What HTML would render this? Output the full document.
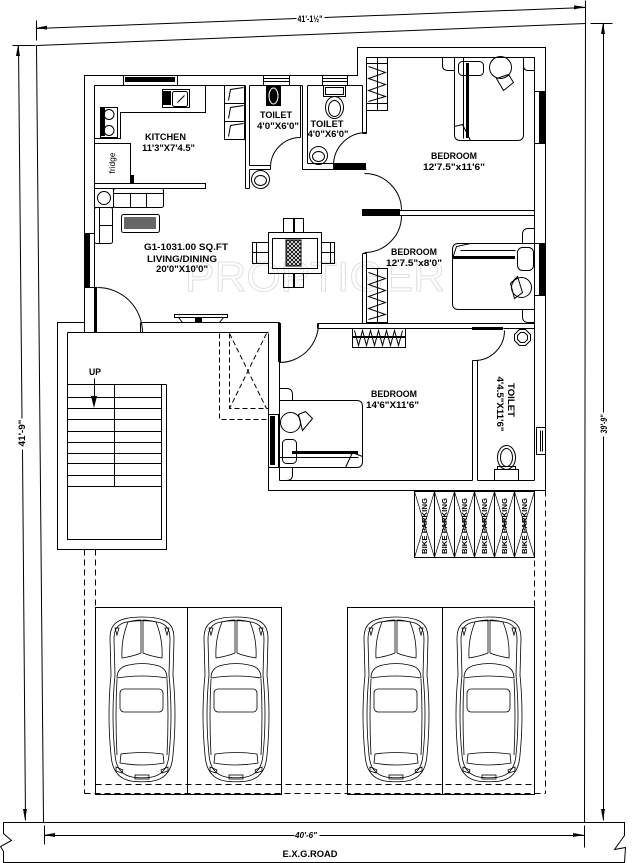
<!DOCTYPE html>
<html><head><meta charset="utf-8"><style>
html,body{margin:0;padding:0;background:#fff;}
svg{display:block}
text{font-family:"Liberation Sans",sans-serif;font-weight:bold;fill:#000;stroke:none}
</style></head><body>
<svg width="632" height="863" viewBox="0 0 632 863" xmlns="http://www.w3.org/2000/svg">
<defs>
<g id="car" fill="none" stroke="#000" stroke-width="0.8">
 <path d="M14,5 C24,1 46,1 56,5 C64,8 67,14 67,24 L66,60 C69,90 68,120 66,140 C65,156 58,164 46,166 C40,167 30,167 24,166 C12,164 5,156 4,140 C2,120 1,90 4,60 L3,24 C3,14 6,8 14,5 Z"/>
 <path d="M16,8 C26,5 44,5 54,8 C61,11 63,16 63,25 L62,60 C65,90 64,120 62,140 C61,153 55,160 45,162 C40,163 30,163 25,162 C15,160 9,153 8,140 C6,120 5,90 8,60 L7,25 C7,16 9,11 16,8 Z"/>
 <path d="M21,7 Q28,5 34,5 L34,38 Q27,41 15,43 Q14,24 21,7 Z"/>
 <path d="M49,7 Q42,5 36,5 L36,38 Q43,41 55,43 Q56,24 49,7 Z"/>
 <path d="M8,13 L12,13 L10,20 Z"/>
 <path d="M58,13 L62,13 L60,20 Z"/>
 <path d="M10,63 Q10,52 22,50 Q35,47 48,50 Q60,52 60,63 Q35,59 10,63 Z"/>
 <rect x="13" y="74" width="43" height="23" rx="4"/>
 <path d="M13,148 L14,139 Q35,136 56,139 L57,148 Q35,152 13,148 Z"/>
 <path d="M9,152 L16,155 L15,158 L9,156 Z"/>
 <path d="M61,152 L54,155 L55,158 L61,156 Z"/>
 <rect x="28" y="160" width="14" height="4"/>
 <path d="M10,64 Q8,100 10,140"/>
 <path d="M60,64 Q62,100 60,140"/>
</g>
<pattern id="hatch" width="4" height="4" patternUnits="userSpaceOnUse">
 <rect width="4" height="4" fill="#fff"/>
 <path d="M0,4 L4,0 M0,0 L4,4" stroke="#000" stroke-width="0.9"/>
</pattern>
</defs>

<!-- watermark -->
<text x="315" y="291" font-size="42" text-anchor="middle" textLength="260" lengthAdjust="spacingAndGlyphs" style="font-weight:normal;fill:none;stroke:#d9d9d9;stroke-width:0.8">PROPTIGER</text>

<g stroke="#000" stroke-width="1" fill="none" transform="translate(0.5,0.5)">
<!-- plot boundary -->
<line x1="36" y1="45" x2="585" y2="23"/>
<line x1="36" y1="45" x2="43" y2="822"/>
<line x1="585" y1="0" x2="584" y2="822"/>
<!-- top dim -->
<line x1="36" y1="28" x2="296" y2="18"/>
<line x1="324" y1="17" x2="585" y2="7"/>
<line x1="36" y1="20" x2="36" y2="40"/>
<!-- left dim -->
<line x1="18" y1="45" x2="21.5" y2="418"/>
<line x1="22" y1="449" x2="25" y2="820"/>
<line x1="12" y1="45" x2="35" y2="45"/>
<!-- right dim -->
<line x1="603" y1="23" x2="603" y2="412"/>
<line x1="603" y1="436" x2="603" y2="820"/>
<line x1="590" y1="23" x2="612" y2="23"/>
<!-- bottom dim -->
<line x1="44" y1="835" x2="294" y2="835"/>
<line x1="319" y1="835" x2="584" y2="835"/>
<line x1="44" y1="825" x2="44" y2="844"/>
<line x1="584" y1="825" x2="584" y2="847"/>
<!-- road -->
<path d="M3,822 L624,822 L624,835 L614,849 L625,847 L624,862 L3,862 L3,851 L0,846 L11,840 L3,833 Z"/>

<!-- house outer -->
<polyline points="84,332 84,75 357,75 357,47 545,47 545,490 268,490 268,333"/>
<line x1="94" y1="85" x2="245" y2="85"/>
<line x1="249" y1="85" x2="302" y2="85"/>
<line x1="307" y1="85" x2="362" y2="85"/>
<line x1="366" y1="57" x2="534" y2="57"/>
<line x1="534" y1="57" x2="534" y2="480"/>
<line x1="94" y1="85" x2="94" y2="287"/>

<!-- stair block -->
<polyline points="84,322 57,322 57,549 166,549 166,384"/>
<polyline points="67,332 67,539 161,539 161,384"/>
<line x1="67" y1="332" x2="268" y2="332"/>
<line x1="140" y1="322" x2="279" y2="322"/>
<line x1="140" y1="322" x2="140" y2="332"/>
<line x1="67" y1="384" x2="166" y2="384"/>
<line x1="67" y1="397" x2="161" y2="397"/>
<line x1="67" y1="408" x2="161" y2="408"/>
<line x1="67" y1="419" x2="161" y2="419"/>
<line x1="67" y1="431" x2="161" y2="431"/>
<line x1="67" y1="442" x2="161" y2="442"/>
<line x1="67" y1="453" x2="161" y2="453"/>
<line x1="67" y1="463" x2="161" y2="463"/>
<line x1="67" y1="475" x2="161" y2="475"/>
<line x1="67" y1="486" x2="161" y2="486"/>
<line x1="114" y1="384" x2="114" y2="486"/>
<line x1="94" y1="378" x2="94" y2="398"/>

<!-- duct -->
<g stroke-dasharray="5,3">
<polyline points="219,333 219,419 268,419"/>
<polyline points="229,333 229,408 268,408"/>
<line x1="229" y1="333" x2="266" y2="408"/>
<line x1="266" y1="333" x2="229" y2="408"/>
</g>

<!-- bedroom3 walls -->
<line x1="279" y1="322" x2="279" y2="480"/>
<line x1="279" y1="480" x2="472" y2="480"/>
<line x1="477" y1="480" x2="534" y2="480"/>
<line x1="317" y1="323" x2="534" y2="323"/>
<line x1="317" y1="328" x2="472" y2="328"/>
<line x1="503" y1="328" x2="534" y2="328"/>
<line x1="317" y1="323" x2="317" y2="328"/>
<line x1="472" y1="360" x2="472" y2="480"/>
<line x1="477" y1="360" x2="477" y2="480"/>
<line x1="472" y1="360" x2="477" y2="360"/>

<!-- bedroom2 left wall -->
<line x1="362" y1="253" x2="362" y2="323"/>
<line x1="366" y1="253" x2="366" y2="323"/>
<line x1="362" y1="253" x2="366" y2="253"/>
<!-- bedroom1/2 divider -->
<line x1="362" y1="210" x2="534" y2="210"/>
<line x1="362" y1="215" x2="534" y2="215"/>
<!-- bedroom1 left -->
<line x1="362" y1="85" x2="362" y2="133"/>
<line x1="366" y1="57" x2="366" y2="133"/>
<line x1="362" y1="133" x2="366" y2="133"/>
<!-- toilet2 walls -->
<line x1="302" y1="85" x2="302" y2="169"/>
<line x1="307" y1="85" x2="307" y2="163"/>
<line x1="307" y1="163" x2="333" y2="163"/>
<line x1="302" y1="169" x2="366" y2="169"/>
<!-- toilet1 walls -->
<line x1="245" y1="85" x2="245" y2="188"/>
<line x1="249" y1="85" x2="249" y2="165"/>
<line x1="249" y1="169" x2="249" y2="188"/>
<line x1="245" y1="188" x2="249" y2="188"/>
<line x1="249" y1="165" x2="270" y2="165"/>
<line x1="249" y1="169" x2="270" y2="169"/>
<line x1="270" y1="165" x2="270" y2="169"/>
<line x1="300" y1="85" x2="300" y2="137"/>

<!-- doors -->
<path d="M97,287 A45,45 0 0 1 142,332"/>
<path d="M279,362 A39,39 0 0 0 318,323"/>
<path d="M364,173 A37,37 0 0 1 401,210"/>
<path d="M401,215 A37,37 0 0 1 364,252"/>
<path d="M333,165 A33,33 0 0 1 366,132"/>
<path d="M504,330 A30,30 0 0 1 474,360"/>
<path d="M270,167 A30,30 0 0 1 300,137"/>

<!-- kitchen -->
<polyline points="94,138 120,138 120,112 205,112 205,85"/>
<rect x="100" y="107" width="17" height="30"/>
<circle cx="108.5" cy="114" r="5"/>
<circle cx="108.5" cy="130" r="5"/>
<rect x="162" y="89" width="27" height="18"/>
<rect x="172" y="91" width="15" height="15" rx="2"/>
<line x1="177" y1="102" x2="184" y2="95"/>
<polyline points="94,143 130,143 130,183"/>
<rect x="94" y="183" width="111" height="5"/>
<rect x="224" y="85" width="20" height="54"/>
<line x1="224" y1="103" x2="244" y2="103"/>
<line x1="224" y1="121" x2="244" y2="121"/>
<polyline points="228,100 230,89 243,87"/>
<polyline points="228,118 230,107 243,105"/>
<polyline points="228,136 230,125 243,123"/>
<!-- windows top -->
<rect x="123" y="75" width="54" height="10"/>
<rect x="263" y="75" width="26" height="10"/>
<line x1="263" y1="78" x2="289" y2="78"/>
<line x1="263" y1="81" x2="289" y2="81"/>
<rect x="322" y="75" width="25" height="10"/>
<line x1="322" y1="78" x2="347" y2="78"/>
<line x1="322" y1="81" x2="347" y2="81"/>
<!-- left window -->
<rect x="84" y="233" width="10" height="54"/>

<!-- toilets fixtures -->
<circle cx="260" cy="179" r="9"/>
<ellipse cx="260" cy="180" rx="6" ry="5"/>
<rect x="323" y="85" width="22" height="11"/>
<rect x="325" y="87" width="18" height="7"/>
<ellipse cx="334" cy="107" rx="9" ry="11"/>
<ellipse cx="334" cy="108" rx="6" ry="8"/>
<circle cx="318" cy="155" r="9"/>
<ellipse cx="318" cy="156" rx="6" ry="5"/>
<polygon points="519,329 525,329 530,334 530,340 525,345 519,345 514,340 514,334"/>
<polygon points="520,332 524,332 527,335 527,339 524,342 520,342 517,339 517,335"/>
<ellipse cx="506" cy="457" rx="9" ry="12"/>
<ellipse cx="506" cy="457" rx="6" ry="9"/>
<rect x="494" y="469" width="24" height="11"/>
<rect x="497" y="466" width="18" height="3"/>
<rect x="536" y="427" width="9" height="27"/>
<line x1="540" y1="430" x2="540" y2="451"/>
<line x1="542" y1="430" x2="542" y2="451"/>

<!-- bedroom1 -->
<rect x="534" y="91" width="11" height="52"/>
<rect x="366" y="57" width="21" height="53"/>
<line x1="377" y1="57" x2="377" y2="110"/>
<line x1="366" y1="63" x2="387" y2="63"/>
<line x1="366" y1="103" x2="387" y2="103"/>
<polyline points="368,66 385,72 368,78 385,84 368,90 385,96 368,101"/>
<path d="M454,57 L454,134 Q454,140 460,140 L517,140 Q523,140 523,134 L523,57"/>
<line x1="463" y1="57" x2="463" y2="138"/>
<path d="M454,126 L462,124 L470,140"/>
<rect x="458" y="61" width="25" height="14" rx="4"/>
<circle cx="500" cy="67" r="11"/>
<path d="M496,78 L508,74 L513,82 L503,90 Z"/>
<path d="M454,57 L442,57 L442,65 Q442,70 448,70 L454,70"/>
<path d="M523,57 L534,57 L534,70 L528,70 Q523,70 523,65"/>

<!-- bedroom2 -->
<rect x="534" y="243" width="11" height="52"/>
<rect x="366" y="268" width="21" height="54"/>
<line x1="377" y1="268" x2="377" y2="322"/>
<polyline points="368,272 385,278 368,284 385,290 368,296 385,302 368,308 385,314 368,319"/>
<path d="M534,243 L458,243 Q452,243 452,249 L452,303 Q452,309 458,309 L534,309"/>
<line x1="460" y1="250" x2="515" y2="250"/>
<path d="M452,258 L456,246 L470,243"/>
<rect x="517" y="247" width="16" height="23" rx="5"/>
<circle cx="521" cy="287" r="10"/>
<path d="M510,283 L517,276 L522,292 L514,298 Z"/>
<path d="M534,228 L528,228 Q522,228 522,234 L522,243"/>
<path d="M534,322 L528,322 Q522,322 522,316 L522,309"/>

<!-- bedroom3 -->
<rect x="268" y="414" width="10" height="53"/>
<path d="M279,400 L356,400 Q362,400 362,406 L362,461 Q362,467 356,467 L279,467"/>
<line x1="279" y1="457" x2="358" y2="457"/>
<path d="M345,467 L352,452 L362,456"/>
<rect x="282" y="439" width="14" height="24" rx="4"/>
<circle cx="290" cy="422" r="10"/>
<path d="M298,414 L305,411 L312,418 L302,430 Z"/>
<path d="M279,388 L286,388 Q292,388 292,394 L292,400"/>
<path d="M279,480 L286,480 Q292,480 292,474 L292,467"/>
<rect x="352" y="328" width="53" height="19"/>
<polyline points="354,330 358,345 362,330 366,345 370,330 374,345 378,330 382,345 386,330 390,345 394,330 398,345 402,330"/>

<!-- living -->
<rect x="94" y="188" width="19" height="19"/>
<circle cx="103.5" cy="197.5" r="6.5"/>
<rect x="113" y="188" width="50" height="19" rx="2"/>
<line x1="113" y1="193" x2="163" y2="193"/>
<line x1="130" y1="193" x2="130" y2="207"/>
<line x1="146" y1="193" x2="146" y2="207"/>
<rect x="94" y="207" width="18" height="36" rx="2"/>
<line x1="99" y1="207" x2="99" y2="243"/>
<line x1="99" y1="225" x2="112" y2="225"/>
<rect x="121" y="214" width="38" height="18" rx="2"/>
<rect x="174" y="314" width="53" height="3"/>
<polyline points="178,317 182,322 219,322 223,317"/>
<!-- dining -->
<rect x="268" y="232" width="53" height="41"/>
<rect x="272" y="238" width="45" height="30"/>
<rect x="283" y="218" width="10" height="14"/>
<rect x="294" y="218" width="9" height="14"/>
<rect x="283" y="273" width="10" height="14"/>
<rect x="294" y="273" width="9" height="14"/>
<rect x="252" y="242" width="16" height="10"/>
<rect x="252" y="252" width="16" height="11"/>
<rect x="321" y="242" width="13" height="10"/>
<rect x="321" y="252" width="13" height="11"/>
<line x1="256" y1="242" x2="256" y2="263"/>
<line x1="330" y1="242" x2="330" y2="263"/>

<!-- bike parking -->
<rect x="414" y="491" width="120" height="66"/>
<line x1="434" y1="491" x2="434" y2="557"/>
<line x1="454" y1="491" x2="454" y2="557"/>
<line x1="474" y1="491" x2="474" y2="557"/>
<line x1="494" y1="491" x2="494" y2="557"/>
<line x1="514" y1="491" x2="514" y2="557"/>
<path d="M414,491 L434,557 M434,491 L414,557 M434,491 L454,557 M454,491 L434,557 M454,491 L474,557 M474,491 L454,557 M474,491 L494,557 M494,491 L474,557 M494,491 L514,557 M514,491 L494,557 M514,491 L534,557 M534,491 L514,557" stroke-width="0.7"/>

<!-- parking dashed -->
<g stroke-dasharray="6,4">
<line x1="84" y1="549" x2="84" y2="793"/>
<line x1="95" y1="549" x2="95" y2="607"/>
<line x1="84" y1="793" x2="545" y2="793"/>
<line x1="95" y1="784" x2="534" y2="784"/>
<line x1="534" y1="490" x2="534" y2="607"/>
<line x1="545" y1="490" x2="545" y2="793"/>
</g>
<rect x="95" y="607" width="186" height="187"/>
<line x1="187" y1="607" x2="187" y2="794"/>
<rect x="347" y="607" width="187" height="187"/>
<line x1="442" y1="607" x2="442" y2="794"/>
</g>

<!-- black fills -->
<g fill="#000" stroke="none">
<polygon points="36,28 47,25.6 47,29.6"/>
<polygon points="585,7 574,5.4 574,9.4"/>
<polygon points="18,45 16,56 20,56"/>
<polygon points="25,820 23,809 27,809"/>
<polygon points="603,23 601,34 605,34"/>
<polygon points="603,820 601,809 605,809"/>
<polygon points="44,835 55,833 55,837"/>
<polygon points="584,835 573,833 573,837"/>
<polygon points="91,396 97,396 94,408"/>
<rect x="362" y="209" width="38" height="7"/>
<rect x="333" y="163" width="33" height="6"/>
<rect x="94" y="287" width="3" height="45"/>
<rect x="278" y="323" width="3" height="39"/>
<rect x="472" y="327" width="31" height="3"/>
<rect x="85" y="233" width="5" height="54"/>
<rect x="125" y="77" width="50" height="5"/>
<rect x="539" y="91" width="6" height="52"/>
<rect x="539" y="243" width="6" height="52"/>
<rect x="270" y="416" width="5" height="49"/>
<rect x="266" y="86" width="15" height="20"/>
<rect x="162" y="91" width="9" height="14"/>
<rect x="101" y="108" width="4" height="28"/>
<rect x="130" y="175" width="4" height="8"/>
<rect x="466" y="63" width="3" height="75"/>
<rect x="453" y="256" width="62" height="3"/>
<rect x="292" y="451" width="66" height="3"/>
<rect x="352" y="336" width="53" height="2"/>
<rect x="195" y="318" width="7" height="4"/>
<rect x="124" y="217" width="32" height="12" fill="#666"/>
</g>
<rect x="286" y="240" width="15" height="26" fill="url(#hatch)" stroke="#000" stroke-width="1"/>
<g fill="none" stroke="#fff" stroke-width="1">
<ellipse cx="273.5" cy="96" rx="4.5" ry="8"/>
<circle cx="108.5" cy="114" r="3"/>
<circle cx="108.5" cy="130" r="3"/>
</g>

<!-- cars -->
<use href="#car" x="107" y="615"/>
<use href="#car" x="201" y="615"/>
<use href="#car" x="361" y="615"/>
<use href="#car" x="454" y="615"/>

<!-- labels -->
<g font-size="9.5">
<text x="165.5" y="140" text-anchor="middle" textLength="41" lengthAdjust="spacingAndGlyphs">KITCHEN</text>
<text x="168.5" y="151" text-anchor="middle" textLength="53" lengthAdjust="spacingAndGlyphs">11'3"X7'4.5"</text>
<text x="276" y="118" text-anchor="middle" textLength="32" lengthAdjust="spacingAndGlyphs">TOILET</text>
<text x="278" y="129" text-anchor="middle" textLength="42" lengthAdjust="spacingAndGlyphs">4'0"X6'0"</text>
<text x="327" y="127" text-anchor="middle" textLength="33" lengthAdjust="spacingAndGlyphs">TOILET</text>
<text x="328" y="137" text-anchor="middle" textLength="41" lengthAdjust="spacingAndGlyphs">4'0"X6'0"</text>
<text x="454" y="159" text-anchor="middle" textLength="46" lengthAdjust="spacingAndGlyphs">BEDROOM</text>
<text x="454" y="170" text-anchor="middle" textLength="62" lengthAdjust="spacingAndGlyphs">12'7.5"x11'6"</text>
<text x="414" y="255" text-anchor="middle" textLength="46" lengthAdjust="spacingAndGlyphs">BEDROOM</text>
<text x="414" y="266" text-anchor="middle" textLength="56" lengthAdjust="spacingAndGlyphs">12'7.5"x8'0"</text>
<text x="394" y="397" text-anchor="middle" textLength="46" lengthAdjust="spacingAndGlyphs">BEDROOM</text>
<text x="392.5" y="408" text-anchor="middle" textLength="53" lengthAdjust="spacingAndGlyphs">14'6"X11'6"</text>
<text x="186" y="250" text-anchor="middle" textLength="84" lengthAdjust="spacingAndGlyphs">G1-1031.00 SQ.FT</text>
<text x="182" y="262" text-anchor="middle" textLength="70" lengthAdjust="spacingAndGlyphs">LIVING/DINING</text>
<text x="182" y="272" text-anchor="middle" textLength="52" lengthAdjust="spacingAndGlyphs">20'0"X10'0"</text>
<text x="95" y="375" text-anchor="middle" textLength="12" lengthAdjust="spacingAndGlyphs">UP</text>
<text transform="translate(508,400) rotate(90)" x="0" y="0" text-anchor="middle" textLength="34" lengthAdjust="spacingAndGlyphs">TOILET</text>
<text transform="translate(497,404) rotate(90)" x="0" y="0" text-anchor="middle" textLength="55" lengthAdjust="spacingAndGlyphs">4'4.5"X11'6"</text>
</g>
<text transform="translate(115,163) rotate(-90)" x="0" y="0" font-size="8" text-anchor="middle" textLength="21" lengthAdjust="spacingAndGlyphs" style="font-weight:normal">fridge</text>
<g font-size="7">
<text transform="translate(427,526) rotate(-90)" text-anchor="middle" textLength="56" lengthAdjust="spacingAndGlyphs">BIKE PARKING</text>
<text transform="translate(447,526) rotate(-90)" text-anchor="middle" textLength="56" lengthAdjust="spacingAndGlyphs">BIKE PARKING</text>
<text transform="translate(467,526) rotate(-90)" text-anchor="middle" textLength="56" lengthAdjust="spacingAndGlyphs">BIKE PARKING</text>
<text transform="translate(487,526) rotate(-90)" text-anchor="middle" textLength="56" lengthAdjust="spacingAndGlyphs">BIKE PARKING</text>
<text transform="translate(507,526) rotate(-90)" text-anchor="middle" textLength="56" lengthAdjust="spacingAndGlyphs">BIKE PARKING</text>
<text transform="translate(527,526) rotate(-90)" text-anchor="middle" textLength="56" lengthAdjust="spacingAndGlyphs">BIKE PARKING</text>
</g>
<g font-size="9">
<text x="310" y="22" text-anchor="middle" textLength="25" lengthAdjust="spacingAndGlyphs">41'-1½"</text>
<text transform="translate(25,433) rotate(-90)" text-anchor="middle" textLength="27" lengthAdjust="spacingAndGlyphs">41'-9"</text>
<text transform="translate(607,424) rotate(-90)" text-anchor="middle" textLength="19" lengthAdjust="spacingAndGlyphs" font-style="italic">39'-9"</text>
<text x="306" y="838" text-anchor="middle" textLength="22" lengthAdjust="spacingAndGlyphs" font-size="8" font-style="italic">40'-6"</text>
<text x="310" y="857" text-anchor="middle" textLength="55" lengthAdjust="spacingAndGlyphs">E.X.G.ROAD</text>
</g>
</svg>
</body></html>
